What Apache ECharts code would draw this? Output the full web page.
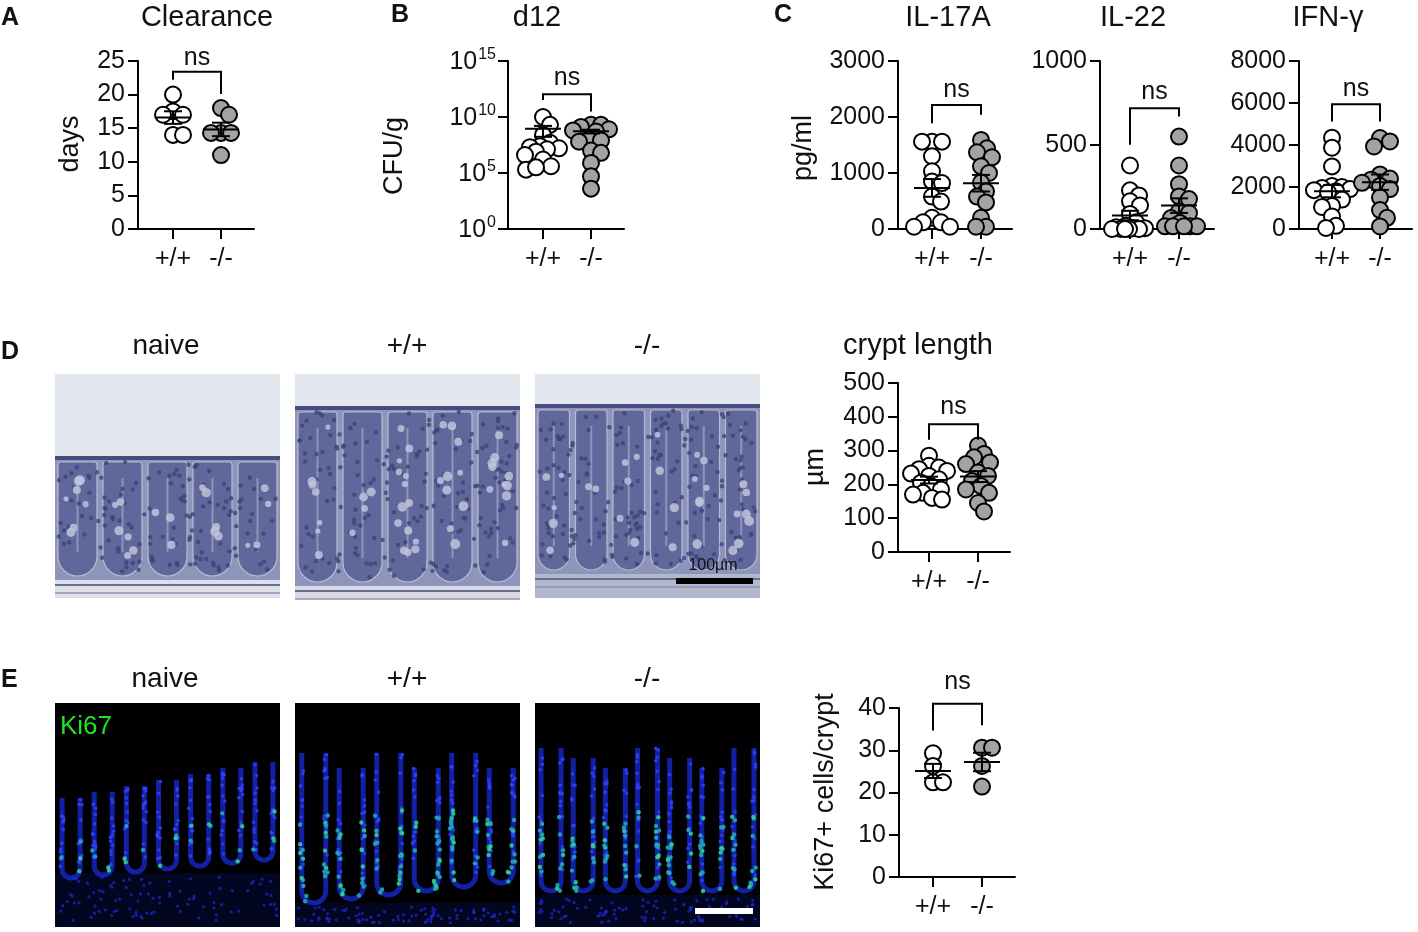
<!DOCTYPE html>
<html><head><meta charset="utf-8">
<script src="https://cdn.jsdelivr.net/npm/echarts@6/dist/echarts.min.js"></script>
<style>html,body{margin:0;padding:0;background:#fff}#c{width:1418px;height:932px}</style>
</head><body><div id="c"></div>
<script>
// ---------- data ----------
const groups = ['+/+', '-/-'];
const clearanceWT = [20, 17.5, 17, 17, 14, 14];
const clearanceKO = [18, 17, 14.3, 14.3, 14.3, 11];
const cfuWT = [1.0e10, 2.0e9, 2.5e8, 5.0e7, 2.5e7, 2.0e7, 1.6e7, 1.3e7, 8.0e6, 4.0e6, 1.6e6, 4.0e5, 2.0e5, 3.2e5];
const cfuKO = [2.0e9, 2.0e9, 1.3e9, 8.0e8, 6.3e8, 5.0e8, 1.0e8, 8.0e7, 6.3e7, 1.0e7, 6.3e6, 8.0e5, 5.0e4, 4.0e3];
const il17WT = [1560, 1560, 1560, 1300, 1030, 850, 820, 580, 490, 200, 120, 120, 40, 40];
const il17KO = [1590, 1440, 1370, 1280, 1120, 1000, 830, 670, 580, 475, 200, 40, 40];
const il22WT = [378, 230, 200, 165, 140, 90, 40, 20, 10, 5, 5, 0, 0, 0, 0, 0];
const il22KO = [550, 378, 267, 194, 178, 105, 95, 65, 36, 16, 16, 16, 16, 16];
const ifngWT = [4350, 3870, 2980, 2050, 2000, 1950, 1900, 1850, 1800, 1750, 1400, 1100, 1050, 600, 150, 50];
const ifngKO = [4330, 4170, 3930, 2600, 2400, 2350, 2200, 2050, 1900, 1500, 900, 530, 120];
const cryptWT = [285, 255, 250, 245, 240, 232, 225, 215, 205, 195, 185, 175, 170, 160, 155];
const cryptKO = [315, 290, 280, 265, 260, 235, 225, 210, 195, 185, 175, 145, 120];
const ki67WT = [29.3, 26.3, 22.4, 22.4];
const ki67KO = [30.6, 30.6, 26.3, 21.4];
const sigLabel = 'ns';

// ---------- layout ----------
const FONT = '"Liberation Sans", Arial, Helvetica, sans-serif';
const panels = [
  {wt: clearanceWT, ko: clearanceKO, ymin:0, ymax:25, step:5, left:138, top:61, width:116, height:168, t0:173, t1:221, br:[23.4,22.2,20.1], nsGap:14},
  {wt: cfuWT, ko: cfuKO, log:true, ymin:0, ymax:15, step:5, left:508, top:61, width:116, height:168, t0:543, t1:591, br:[12.03,11.52,10.48], nsGap:16},
  {wt: il17WT, ko: il17KO, ymin:0, ymax:3000, step:1000, left:898, top:61, width:114, height:168, t0:932, t1:981, br:[2216,1890,2038], nsGap:15},
  {wt: il22WT, ko: il22KO, ymin:0, ymax:1000, step:500, left:1100, top:61, width:114, height:168, t0:1130, t1:1179, br:[719,501,669], nsGap:16},
  {wt: ifngWT, ko: ifngKO, ymin:0, ymax:8000, step:2000, left:1299, top:61, width:113, height:168, t0:1332, t1:1380, br:[5943,5119,5119], nsGap:15},
  {wt: cryptWT, ko: cryptKO, ymin:0, ymax:500, step:100, left:898, top:383, width:112, height:169, t0:929, t1:978, br:[378,332,332], nsGap:17},
  {wt: ki67WT, ko: ki67KO, ymin:0, ymax:40, step:10, left:899, top:708, width:116, height:169, t0:933, t1:982, br:[41.0,34.7,35.9], nsGap:22}
];
panels.forEach(p => {
  const ppu = p.t1 - p.t0;
  p.xmin = -(p.t0 - p.left) / ppu;
  p.xmax = (p.left + p.width - p.t0) / ppu;
  p.tf = p.log ? (v => Math.log10(v)) : (v => v);
});

function swarm(vals, p, g) {
  const ppuY = p.height / (p.ymax - p.ymin);
  const ppuX = p.t1 - p.t0;
  const order = vals.map((v, i) => i).sort((a, b) => vals[b] - vals[a]);
  const placed = [], out = new Array(vals.length);
  const minD = 10, maxOff = 18;
  order.forEach(i => {
    const y = (vals[i] - p.ymin) * ppuY;
    let best = 0, bestScore = -1;
    for (let k = 0; k <= maxOff * 2; k++) {
      const off = (k % 2 ? 1 : -1) * Math.ceil(k / 2);
      let dmin = Infinity;
      placed.forEach(q => { const d = Math.hypot(q[0] - off, q[1] - y); if (d < dmin) dmin = d; });
      if (dmin >= minD) { best = off; break; }
      if (dmin > bestScore) { bestScore = dmin; best = off; }
    }
    placed.push([best, y]);
    out[i] = [g + best / ppuX, vals[i]];
  });
  return out;
}
function stats(raw, p) {
  const n = raw.length, m = raw.reduce((a, b) => a + b, 0) / n;
  const sd = Math.sqrt(raw.reduce((a, b) => a + (b - m) * (b - m), 0) / (n - 1));
  const se = sd / Math.sqrt(n);
  const lo = m - se;
  const hasLo = !p.log || lo > 0;
  return [p.tf(m), hasLo ? p.tf(lo) : p.tf(m), p.tf(m + se), hasLo ? 1 : 0];
}

const series = [];
panels.forEach((p, i) => {
  const wtT = p.wt.map(p.tf), koT = p.ko.map(p.tf);
  const common = {type:'scatter', xAxisIndex:i, yAxisIndex:i, symbol:'circle', symbolSize:16, z:3, silent:true};
  series.push(Object.assign({}, common, {data: swarm(wtT, p, 0), itemStyle:{color:'#ffffff', borderColor:'#000', borderWidth:2, opacity:1}}));
  series.push(Object.assign({}, common, {data: swarm(koT, p, 1), itemStyle:{color:'#a3a3a3', borderColor:'#000', borderWidth:2, opacity:1}}));
  const s0 = stats(p.wt, p), s1 = stats(p.ko, p);
  series.push({
    type:'custom', xAxisIndex:i, yAxisIndex:i, z:5, silent:true, clip:false,
    encode:{x:0, y:1},
    data:[[0].concat(s0), [1].concat(s1)],
    renderItem:(params, api) => {
      const g = api.value(0), m = api.value(1), lo = api.value(2), hi = api.value(3), hasLo = api.value(4);
      const pm = api.coord([g, m]), ph = api.coord([g, hi]);
      const st = {stroke:'#000', lineWidth:2};
      const ch = [
        {type:'line', shape:{x1:pm[0]-18, y1:pm[1], x2:pm[0]+18, y2:pm[1]}, style:st},
        {type:'line', shape:{x1:pm[0]-9, y1:ph[1], x2:pm[0]+9, y2:ph[1]}, style:st}
      ];
      let by = pm[1];
      if (hasLo) { const pl = api.coord([g, lo]); by = pl[1]; ch.push({type:'line', shape:{x1:pm[0]-9, y1:pl[1], x2:pm[0]+9, y2:pl[1]}, style:st}); }
      ch.push({type:'line', shape:{x1:pm[0], y1:ph[1], x2:pm[0], y2:by}, style:st});
      return {type:'group', children:ch};
    }
  });
  series.push({
    type:'custom', xAxisIndex:i, yAxisIndex:i, z:5, silent:true, clip:false,
    encode:{x:0, y:1},
    data:[[0, p.br[0], p.br[1], p.br[2]]],
    renderItem:(params, api) => {
      const t = api.value(1), lb = api.value(2), rb = api.value(3);
      const a = api.coord([0, t]), b = api.coord([1, t]), l = api.coord([0, lb]), r = api.coord([1, rb]);
      return {type:'group', children:[
        {type:'polyline', shape:{points:[[a[0], l[1]], [a[0], a[1]], [b[0], b[1]], [b[0], r[1]]]}, style:{stroke:'#000', lineWidth:2, fill:'none'}},
        {type:'text', x:(a[0]+b[0])/2, y:a[1]-p.nsGap, style:{text:sigLabel, fontSize:25, fontFamily:FONT, fill:'#111', align:'center', verticalAlign:'middle'}}
      ]};
    }
  });
});

// ---------- decorative micrographs ----------
function hash(i) { const s = Math.sin(i * 12.9898 + 78.233) * 43758.5453; return s - Math.floor(s); }
function rect(x, y, w, h, fill, extra) { return Object.assign({type:'rect', shape:{x, y, width:w, height:h}, style:{fill}, silent:true}, extra || {}); }
function histo(x0, y0, w, h, o, seed) {
  const E = [];
  E.push(rect(x0, y0, w, h, '#e3e7ee'));
  const tT = y0 + o.top, tB = y0 + o.bot;
  E.push(rect(x0, tT, w, tB - tT, '#8e95bb'));
  const n = o.n, cw = w / n;
  for (let i = 0; i < n; i++) {
    const cx = x0 + cw * (i + 0.5), ww = cw - 6;
    E.push({type:'rect', silent:true, shape:{x:cx-ww/2, y:tT+6, width:ww, height:tB-tT-10, r:[3,3,ww/2,ww/2]}, style:{fill:'#5f679b', stroke:'#b7bbd2', lineWidth:1.2}});
    E.push({type:'line', silent:true, shape:{x1:cx, y1:tT+22, x2:cx, y2:tB-28}, style:{stroke:'#8e94ba', lineWidth:2}});
  }
  for (let j = 0; j < o.nuc; j++) {
    const px = x0 + 3 + hash(seed + j * 3.1) * (w - 6), py = tT + 6 + hash(seed + j * 7.7) * (tB - tT - 14);
    E.push({type:'circle', silent:true, shape:{cx:px, cy:py, r:2.2}, style:{fill:'#3c4378', opacity:0.8}});
  }
  for (let j = 0; j < o.gob; j++) {
    const ci = Math.floor(hash(seed + j * 5.3) * n);
    const cx = x0 + cw * (ci + 0.5) + (hash(seed + j * 2.9) - 0.5) * cw * 0.55;
    const py = tT + 18 + hash(seed + j * 4.1) * (tB - tT - 40);
    E.push({type:'circle', silent:true, shape:{cx, cy:py, r:2.5 + hash(seed + j) * 2.5}, style:{fill:'#bfc3da', opacity:0.85}});
  }
  E.push(rect(x0, tT, w, 4, '#454c80'));
  E.push(rect(x0, tB, w, y0 + h - tB, o.sub));
  E.push({type:'line', silent:true, shape:{x1:x0, y1:tB+5, x2:x0+w, y2:tB+5}, style:{stroke:'#666c92', lineWidth:2}});
  E.push({type:'line', silent:true, shape:{x1:x0, y1:tB+13, x2:x0+w, y2:tB+13}, style:{stroke:'#8a8fae', lineWidth:1.5}});
  return E;
}
function uPoints(cx, top, bot, r) {
  const pts = [[cx - r, top], [cx - r, bot - r]];
  for (let a = 1; a < 12; a++) { const t = Math.PI - a * Math.PI / 12; pts.push([cx + r * Math.cos(t), bot - r + r * Math.sin(t)]); }
  pts.push([cx + r, bot - r], [cx + r, top]);
  return pts;
}
function fluor(x0, y0, w, h, o, seed) {
  const E = [];
  E.push(rect(x0, y0, w, h, '#010104'));
  E.push(rect(x0, y0 + o.base, w, h - o.base, '#030620'));
  for (let j = 0; j < 90; j++) {
    const px = x0 + 3 + hash(seed + j * 3.7) * (w - 6), py = y0 + o.base + 4 + hash(seed + j * 6.1) * (h - o.base - 8);
    E.push({type:'circle', silent:true, shape:{cx:px, cy:py, r:1.6}, style:{fill:'#1b2bd2', opacity:0.7}});
  }
  const n = o.n, sp = w / n;
  for (let i = 0; i < n; i++) {
    const cx = x0 + sp * (i + 0.5), r = o.cw / 2;
    const top = y0 + o.top(i), bot = y0 + o.bot(i);
    E.push({type:'polyline', silent:true, shape:{points:uPoints(cx, top, bot, r)}, style:{stroke:'#1a2bd8', lineWidth:5, fill:'none', opacity:0.75}});
    for (let k = 0; k < 26; k++) {
      const t = hash(seed + i * 53 + k * 1.7);
      const side = k % 2 ? -1 : 1;
      const fy = top + t * (bot - top - r);
      E.push({type:'circle', silent:true, shape:{cx:cx + side * r + (hash(seed + k * 9.1 + i) - 0.5) * 4, cy:fy, r:1.8}, style:{fill:'#2f45ff', opacity:0.8}});
    }
    for (let k = 0; k < o.ki; k++) {
      const side = hash(seed + i * 31 + k) < 0.5 ? -1 : 1;
      const fy = top + (0.4 + 0.6 * hash(seed + i * 17 + k * 3.3)) * (bot - top);
      const fx = fy > bot - r ? cx + side * r * 0.7 : cx + side * r;
      E.push({type:'circle', silent:true, shape:{cx:fx + (hash(seed + k * 4.3 + i * 2) - 0.5) * 4, cy:Math.min(fy, bot), r:2.2}, style:{fill: k % 3 ? '#22a8b0' : '#2fd38a', opacity:0.9}});
    }
  }
  return E;
}

const gfx = [];
gfx.push(...histo(55, 374, 225, 224, {top:82, bot:206, n:5, nuc:140, gob:25, sub:'#dde0e8'}, 1));
gfx.push(...histo(295, 374, 225, 224, {top:32, bot:212, n:5, nuc:200, gob:45, sub:'#d8dbe4'}, 2));
gfx.push(...histo(535, 374, 225, 224, {top:30, bot:200, n:6, nuc:220, gob:30, sub:'#b3b7cb'}, 3));
gfx.push(rect(676, 578, 77, 6, '#000'));
gfx.push({type:'text', x:713, y:566, silent:true, style:{text:'100µm', fontSize:16, fontFamily:FONT, fill:'#111', align:'center', verticalAlign:'middle'}});
gfx.push(...fluor(55, 703, 225, 224, {base:170, n:7, cw:18, top:i => 95 - i * 6, bot:i => 175 - i * 3, ki:4}, 11));
gfx.push(...fluor(295, 703, 225, 224, {base:200, n:6, cw:24, top:i => 50 + (i % 2) * 15, bot:i => 200 - i * 4, ki:22}, 12));
gfx.push(...fluor(535, 703, 225, 224, {base:192, n:7, cw:20, top:i => 45 + (i % 3) * 10, bot:i => 188, ki:18}, 13));
gfx.push(rect(695, 908, 58, 6, '#ffffff'));
gfx.push({type:'text', x:60, y:727, silent:true, style:{text:'Ki67', fontSize:26, fontFamily:FONT, fill:'#1ee61e', align:'left', verticalAlign:'middle'}});

// ---------- texts ----------
function txt(s, x, y, size, extra) {
  return Object.assign({type:'text', x, y, silent:true, style:Object.assign({text:s, fontSize:size, fontFamily:FONT, fill:'#111', align:'center', verticalAlign:'middle'}, (extra && extra.style) || {})}, extra && extra.rotation ? {rotation:extra.rotation} : {});
}
const letter = {style:{fontWeight:'bold', align:'left'}};
gfx.push(txt('A', 1, 18, 25, letter), txt('B', 391, 15, 25, letter), txt('C', 774, 15, 25, letter),
         txt('D', 1, 352, 25, letter), txt('E', 1, 680, 25, letter));
gfx.push(txt('Clearance', 207, 18, 29), txt('d12', 537, 18, 29), txt('IL-17A', 948, 18, 29),
         txt('IL-22', 1133, 18, 29), txt('IFN-γ', 1328, 18, 29));
gfx.push(txt('naive', 166, 346, 28), txt('+/+', 407, 346, 28), txt('-/-', 647, 346, 28), txt('crypt length', 918, 346, 29));
gfx.push(txt('naive', 165, 679, 28), txt('+/+', 407, 679, 28), txt('-/-', 647, 679, 28));
const rot = {rotation: Math.PI / 2};
gfx.push(txt('days', 71, 144, 27, rot), txt('CFU/g', 395, 156, 27, rot), txt('pg/ml', 804, 148, 27, rot),
         txt('µm', 816, 467, 27, rot), txt('Ki67+ cells/crypt', 826, 792, 27, rot));

const option = {
  animation:false,
  textStyle:{fontFamily:FONT},
  grid: panels.map(p => ({left:p.left, top:p.top, width:p.width, height:p.height})),
  xAxis: panels.map((p, i) => ({
    gridIndex:i, type:'value', min:p.xmin, max:p.xmax,
    axisLine:{show:true, onZero:false, lineStyle:{color:'#000', width:2}},
    axisTick:{show:true, customValues:[0, 1], length:10, lineStyle:{color:'#000', width:2}},
    axisLabel:{show:true, customValues:[0, 1], formatter:v => groups[Math.round(v)], fontSize:25, color:'#111', margin:18, fontFamily:FONT},
    splitLine:{show:false}
  })),
  yAxis: panels.map((p, i) => ({
    gridIndex:i, type:'value', min:p.ymin, max:p.ymax, interval:p.step,
    axisLine:{show:true, onZero:false, lineStyle:{color:'#000', width:2}},
    axisTick:{show:true, length:10, lineStyle:{color:'#000', width:2}},
    axisLabel: p.log ? {
      formatter:v => '{b|10}{s|' + v + '}', margin:12,
      rich:{b:{fontSize:25, color:'#111', fontFamily:FONT, verticalAlign:'bottom'}, s:{fontSize:16, color:'#111', fontFamily:FONT, verticalAlign:'bottom', padding:[0, 0, 12, 1]}}
    } : {formatter:v => String(v), fontSize:25, color:'#111', margin:13, fontFamily:FONT},
    splitLine:{show:false}
  })),
  series,
  graphic:{elements:gfx}
};
const chart = echarts.init(document.getElementById('c'), null, {renderer:'canvas'});
chart.setOption(option);
</script>
</body></html>
